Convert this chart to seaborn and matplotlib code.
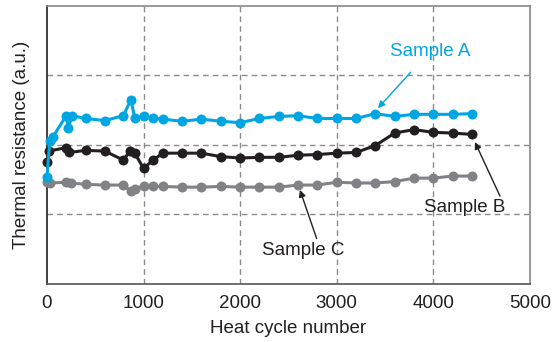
import matplotlib
matplotlib.use("Agg")
import matplotlib.pyplot as plt
import seaborn as sns
import pandas as pd

# Heat cycle numbers and thermal resistance (a.u.)
a_x = [0, 30, 60, 200, 220, 260, 400, 600, 790, 870, 910, 1000, 1100, 1200, 1400,
       1600, 1800, 2000, 2200, 2400, 2600, 2800, 3000, 3200, 3400, 3600, 3800,
       4000, 4200, 4400]
a_y = [1.53, 2.06, 2.11, 2.42, 2.24, 2.42, 2.38, 2.35, 2.42, 2.65, 2.38, 2.42, 2.38,
       2.37, 2.34, 2.37, 2.34, 2.32, 2.38, 2.41, 2.42, 2.38, 2.38, 2.38, 2.45, 2.41,
       2.44, 2.44, 2.44, 2.45]

b_x = [0, 20, 200, 230, 400, 600, 790, 860, 910, 1000, 1100, 1200, 1400, 1600,
       1800, 2000, 2200, 2400, 2600, 2800, 3000, 3200, 3400, 3600, 3800, 4000,
       4200, 4400]
b_y = [1.75, 1.91, 1.96, 1.89, 1.92, 1.91, 1.78, 1.91, 1.88, 1.66, 1.78, 1.88,
       1.88, 1.88, 1.83, 1.81, 1.82, 1.82, 1.85, 1.86, 1.88, 1.89, 1.99, 2.17,
       2.22, 2.18, 2.17, 2.15]

c_x = [0, 30, 200, 250, 400, 600, 790, 870, 910, 1000, 1100, 1200, 1400, 1600,
       1800, 2000, 2200, 2400, 2600, 2800, 3000, 3200, 3400, 3600, 3800, 4000,
       4200, 4400]
c_y = [1.46, 1.45, 1.46, 1.45, 1.43, 1.42, 1.42, 1.33, 1.37, 1.40, 1.40, 1.40,
       1.39, 1.39, 1.40, 1.39, 1.39, 1.39, 1.42, 1.42, 1.46, 1.45, 1.45, 1.47,
       1.52, 1.52, 1.55, 1.55]

x_ticks = [0, 1000, 2000, 3000, 4000, 5000]
labels = ["Sample A", "Sample B", "Sample C"]
colors = ["#00a6e2", "#231f20", "#818285"]

sns.set_theme(style="white")
plt.rcParams["font.family"] = ["Liberation Sans", "DejaVu Sans"]

fig = plt.figure(figsize=(5.52, 3.42), dpi=100)
ax = fig.add_axes([0.085, 0.171, 0.875, 0.811])

series = [(a_x, a_y), (b_x, b_y), (c_x, c_y)]
zorders = [5, 4, 3]
for (xs, ys), lab, col, z in zip(series, labels, colors, zorders):
    df = pd.DataFrame({"x": xs, "y": ys})
    sns.lineplot(data=df, x="x", y="y", sort=False, estimator=None, ax=ax,
                 color=col, lw=2.2, marker="o", markersize=7.2,
                 markeredgecolor=col, markeredgewidth=0, zorder=z, clip_on=False)

ax.set_xlim(0, 5000)
ax.set_ylim(0, 4)
ax.set_xticks(x_ticks)
ax.set_xticklabels([str(t) for t in x_ticks], fontsize=13.5, color="#231f20")
ax.set_yticks([])
ax.tick_params(axis="x", length=0, pad=8)

for v in [1000, 2000, 3000, 4000]:
    ax.axvline(v, color="#8a8a8a", ls=(0, (4, 3)), lw=1, zorder=1)
for v in [1, 2, 3]:
    ax.axhline(v, color="#8a8a8a", ls=(0, (4, 3)), lw=1, zorder=1)

ax.spines["left"].set_color("#231f20")
ax.spines["bottom"].set_color("#555555")
ax.spines["top"].set_color("#888888")
ax.spines["right"].set_color("#888888")
for s in ax.spines.values():
    s.set_linewidth(1.2)

ax.set_xlabel("Heat cycle number", fontsize=13.5, color="#231f20", labelpad=6)
ax.set_ylabel("Thermal resistance (a.u.)", fontsize=13.5, color="#231f20", labelpad=12)

ax.annotate("Sample A", xy=(3427, 2.53), xytext=(3965, 3.35), color=colors[0],
            fontsize=13.5, ha="center", va="center",
            arrowprops=dict(arrowstyle="-|>", color=colors[0], lw=1,
                            shrinkA=9, shrinkB=0, mutation_scale=10))
ax.annotate("Sample B", xy=(4431, 2.04), xytext=(4327, 1.09), color="#231f20",
            fontsize=13.5, ha="center", va="center",
            arrowprops=dict(arrowstyle="-|>", color="#231f20", lw=1,
                            shrinkA=0, shrinkB=0, mutation_scale=10,
                            relpos=(0.95, 1.0)))
ax.annotate("Sample C", xy=(2619, 1.35), xytext=(2650, 0.48), color="#231f20",
            fontsize=13.5, ha="center", va="center",
            arrowprops=dict(arrowstyle="-|>", color="#231f20", lw=1,
                            shrinkA=0, shrinkB=0, mutation_scale=10,
                            relpos=(0.68, 1.0)))

fig.savefig("out.png", dpi=100)
